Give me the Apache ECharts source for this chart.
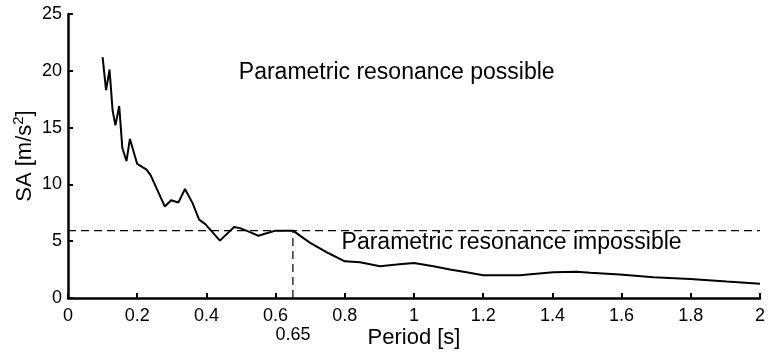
<!DOCTYPE html>
<html>
<head>
<meta charset="utf-8">
<script src="https://cdn.jsdelivr.net/npm/echarts@6/dist/echarts.min.js"></script>
<style>
html,body{margin:0;padding:0;background:#fff;}
#c{width:768px;height:358px;}
</style>
</head>
<body>
<div id="c"></div>
<script>
// Data
const period = [0.10, 0.11, 0.12, 0.129, 0.137, 0.148, 0.157, 0.169, 0.179, 0.20, 0.227, 0.239, 0.28, 0.298, 0.319, 0.338, 0.36, 0.379, 0.397, 0.439, 0.48, 0.497, 0.526, 0.55, 0.574, 0.60, 0.65, 0.70, 0.752, 0.80, 0.844, 0.902, 0.95, 1.00, 1.056, 1.104, 1.152, 1.20, 1.249, 1.306, 1.345, 1.403, 1.47, 1.509, 1.595, 1.692, 1.798, 1.904, 2.00];
const sa     = [21.2, 18.3, 20.1, 16.5, 15.2, 16.9, 13.2, 12.06, 14.0, 11.8, 11.3, 10.8, 8.05, 8.6, 8.4, 9.6, 8.35, 6.9, 6.5, 5.05, 6.25, 6.15, 5.8, 5.48, 5.7, 5.93, 5.93, 4.85, 3.96, 3.23, 3.14, 2.8, 2.94, 3.09, 2.79, 2.5, 2.26, 2.0, 2.0, 2.0, 2.12, 2.26, 2.3, 2.22, 2.06, 1.82, 1.68, 1.45, 1.25];
const threshold = 5.93;
const criticalPeriod = 0.65;
const xTicks = [0, 0.2, 0.4, 0.6, 0.8, 1, 1.2, 1.4, 1.6, 1.8, 2];
const yTicks = [0, 5, 10, 15, 20, 25];
const annotations = [
  {text: 'Parametric resonance possible', at: [0.95, 19.87]},
  {text: 'Parametric resonance impossible', at: [1.282, 4.87]}
];

const FONT = '"Liberation Sans", Arial, Helvetica, sans-serif';
const chart = echarts.init(document.getElementById('c'), null, {renderer: 'canvas'});

const curve = period.map((t, i) => [t, sa[i]]);

chart.setOption({
  backgroundColor: '#fff',
  animation: false,
  grid: {left: 68, right: 8, top: 14, bottom: 60, containLabel: false},
  xAxis: {
    type: 'value', min: xTicks[0], max: xTicks[xTicks.length - 1], interval: 0.2,
    name: 'Period [s]', nameLocation: 'middle', nameGap: 29, nameMoveOverlap: false,
    nameTextStyle: {fontFamily: FONT, fontSize: 22, color: '#000'},
    axisLine: {show: true, lineStyle: {color: '#000', width: 2.5}},
    axisTick: {show: true, inside: true, length: 5, lineStyle: {color: '#000', width: 2}},
    axisLabel: {fontFamily: FONT, fontSize: 18, color: '#000', margin: 9,
      formatter: v => String(+v.toFixed(1))},
    splitLine: {show: false}
  },
  yAxis: {
    type: 'value', min: yTicks[0], max: yTicks[yTicks.length - 1], interval: 5,
    name: '{m|SA [m/s}{s|2}{m|]}', nameLocation: 'middle', nameGap: 29, nameRotate: 90,
    nameMoveOverlap: false,
    nameTextStyle: {fontFamily: FONT, fontSize: 22, color: '#000',
      rich: {
        m: {fontFamily: FONT, fontSize: 22, color: '#000', lineHeight: 28},
        s: {fontFamily: FONT, fontSize: 15, color: '#000', verticalAlign: 'top', lineHeight: 15}
      }},
    axisLine: {show: true, lineStyle: {color: '#000', width: 2.5}},
    axisTick: {show: true, inside: true, length: 5, lineStyle: {color: '#000', width: 2}},
    axisLabel: {fontFamily: FONT, fontSize: 18, color: '#000', margin: 6},
    splitLine: {show: false}
  },
  series: [
    {
      type: 'line', data: curve, symbol: 'none', z: 3,
      lineStyle: {color: '#000', width: 2}
    },
    {
      type: 'line', data: [[xTicks[0], threshold], [xTicks[xTicks.length - 1], threshold]],
      symbol: 'none', z: 2,
      lineStyle: {color: '#000', width: 1.2, type: [8, 5]}
    },
    {
      type: 'line', data: [[criticalPeriod, 0], [criticalPeriod, threshold]],
      symbol: 'none', z: 2,
      lineStyle: {color: '#000', width: 1.2, type: [8, 5]}
    },
    {
      type: 'scatter', symbolSize: 0, silent: true, clip: false,
      data: [[criticalPeriod, 0]],
      itemStyle: {color: '#000', opacity: 1},
      label: {show: true, position: 'inside', offset: [0, 37.5], formatter: String(criticalPeriod),
        fontFamily: FONT, fontSize: 18, color: '#000', opacity: 1, textBorderWidth: 0}
    },
    {
      type: 'scatter', symbolSize: 0, silent: true, clip: false,
      data: annotations.map(a => ({value: a.at, name: a.text})),
      itemStyle: {color: '#000', opacity: 1},
      label: {show: true, position: 'inside', formatter: p => p.name,
        fontFamily: FONT, fontSize: 23, color: '#000', opacity: 1, textBorderWidth: 0}
    }
  ]
});
</script>
</body>
</html>
